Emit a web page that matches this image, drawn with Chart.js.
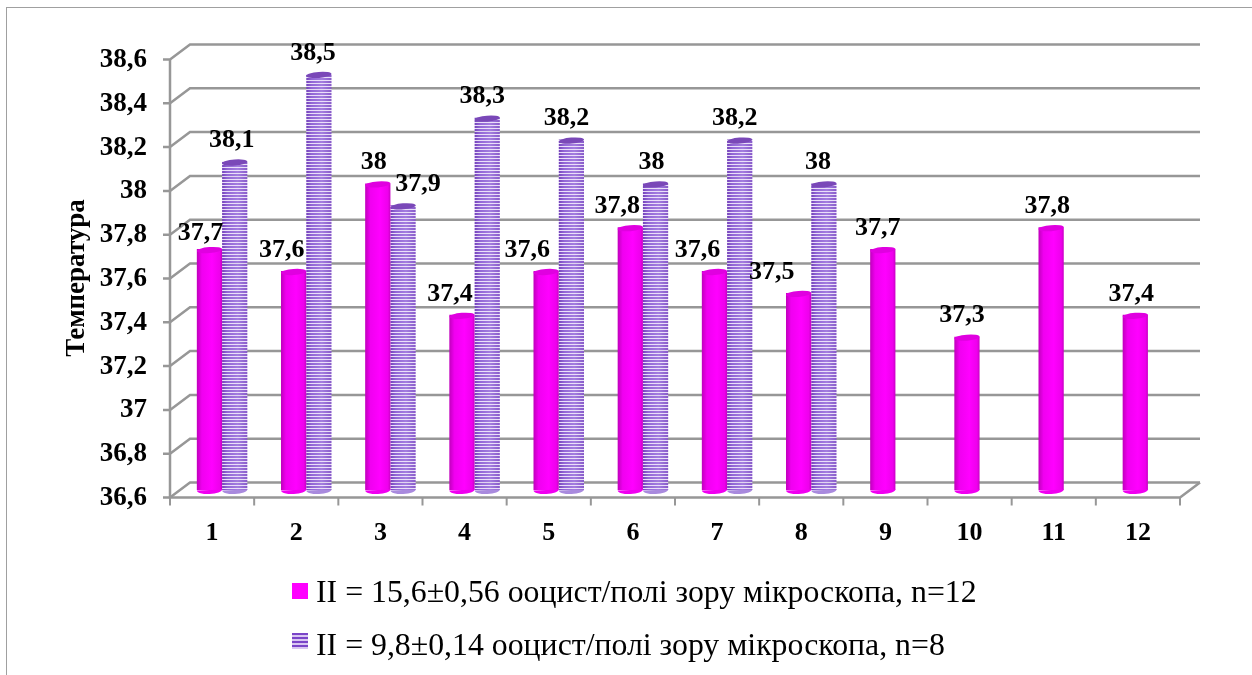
<!DOCTYPE html>
<html>
<head>
<meta charset="utf-8">
<script src="https://cdn.jsdelivr.net/npm/chart.js@4"></script>
<style>
  html, body { margin: 0; padding: 0; background: #fff; overflow: hidden; }
  #frame { position: absolute; left: 6px; top: 7px; width: 1246px; height: 668px; border-left: 1px solid #a0a0a0; border-top: 1px solid #a0a0a0; }
  #wrap { position: absolute; left: 0; top: 0; width: 1252px; height: 675px; }
  #legend { position: absolute; left: 292px; top: 572px; font: 31.8px "Liberation Serif", serif; color: #000; }
  #legend div { height: 53px; line-height: 40px; white-space: nowrap; display: flex; align-items: flex-start; }
  #legend i { display: inline-block; width: 16px; height: 16px; margin: 11px 8px 0 0; }
  #legend div + div i { margin-top: 8px; }
</style>
</head>
<body>
<div id="frame"></div>
<div id="wrap"><canvas id="tempChart" width="1252" height="675"></canvas></div>
<div id="legend"></div>
<script>
const categories = ['1', '2', '3', '4', '5', '6', '7', '8', '9', '10', '11', '12'];
const groupOne = [37.7, 37.6, 38, 37.4, 37.6, 37.8, 37.6, 37.5, 37.7, 37.3, 37.8, 37.4];
const groupTwo = [38.1, 38.5, 37.9, 38.3, 38.2, 38, 38.2, 38, null, null, null, null];
const seriesNames = ['II = 15,6±0,56 ооцист/полі зору мікроскопа, n=12', 'II = 9,8±0,14 ооцист/полі зору мікроскопа, n=8'];
const axisTitle = 'Температура';

// hand placed label nudges, the labels dodge each other in the narrow groups
const shiftOneX = [-9, -12, -4, -12, -19, -13, -17, -27, -5, -5, -4, -4];
const shiftOneY = [5, 0, 0, 0, 0, 0, 0, 0, 0, 0, 0, 0];
const shiftTwoX = [-3, -6, 15, -5, -5, -4, -5, -6];
const shiftTwoY = [0, 0, 0, 0, 0, 0, 0, 0];

const DEPTH_X = 20, DEPTH_Y = 15;
const GRID = '#979797';
const ctx = document.getElementById('tempChart').getContext('2d');

const decimalComma = v => String(v).replace('.', ',');

// magenta cylinder shading across the width of a bar
function magentaFill(c) {
    const el = c.element;
    if (!el || !el.width) return '#ff00ff';
    const left = el.x - el.width / 2;
    const g = ctx.createLinearGradient(left, 0, left + el.width, 0);
    g.addColorStop(0, '#c000bc');
    g.addColorStop(0.2, '#f000f0');
    g.addColorStop(0.6, '#ff00ff');
    g.addColorStop(0.9, '#ee00ec');
    g.addColorStop(1, '#c800c4');
    return g;
}

// purple rings: one tile per bar width, shaded left to right, lilac line every third pixel
const TILE_W = 26;
const stripeTile = document.createElement('canvas');
stripeTile.width = TILE_W;
stripeTile.height = 3;
const tileCtx = stripeTile.getContext('2d');
const shade = tileCtx.createLinearGradient(0, 0, TILE_W, 0);
shade.addColorStop(0, '#7442ba');
shade.addColorStop(0.2, '#9266d6');
shade.addColorStop(0.6, '#a47ee0');
shade.addColorStop(1, '#8658c8');
tileCtx.fillStyle = shade;
tileCtx.fillRect(0, 0, TILE_W, 2);
tileCtx.fillStyle = 'rgba(232, 220, 248, 0.9)';
tileCtx.fillRect(0, 2, TILE_W, 1);

function stripeFill(c) {
    const el = c.element;
    if (!el || !el.width) return '#9266d6';
    const p = ctx.createPattern(stripeTile, 'repeat');
    p.setTransform(new DOMMatrix().translate(el.x - el.width / 2, 0));
    return p;
}

const wallPlugin = {
    id: 'wall',
    beforeDatasetsDraw(chart) {
        const { ctx: c, scales: { y } } = chart;
        const area = chart.chartArea;
        const frontL = area.left - DEPTH_X / 2, frontR = area.right - DEPTH_X / 2;
        const backL = frontL + DEPTH_X, backR = frontR + DEPTH_X;
        const dy = DEPTH_Y / 2;
        c.save();
        c.strokeStyle = GRID;
        c.lineWidth = 2.5;
        y.ticks.forEach(t => {
            const py = y.getPixelForValue(t.value);
            c.beginPath();
            c.moveTo(frontL - 7, py + dy);
            c.lineTo(frontL, py + dy);
            c.lineTo(backL, py - dy);
            c.lineTo(backR, py - dy);
            c.stroke();
        });
        const bottom = y.getPixelForValue(y.min) + dy;
        const top = y.getPixelForValue(y.max) + dy;
        c.beginPath();
        c.moveTo(frontL, top);
        c.lineTo(frontL, bottom);
        c.lineTo(frontR, bottom);
        c.lineTo(backR, bottom - DEPTH_Y);
        c.stroke();
        c.lineWidth = 2;
        for (let i = 0; i <= categories.length; i++) {
            const px = frontL + i * (frontR - frontL) / categories.length;
            c.beginPath();
            c.moveTo(px, bottom);
            c.lineTo(px, bottom + 8);
            c.stroke();
        }
        c.restore();
    }
};

const capPlugin = {
    id: 'caps',
    afterDatasetsDraw(chart) {
        const c = chart.ctx;
        const floor = chart.scales.y.getPixelForValue(chart.scales.y.min);
        chart.data.datasets.forEach((ds, di) => {
            chart.getDatasetMeta(di).data.forEach((bar, i) => {
                if (ds.data[i] == null) return;
                const rx = bar.width / 2;
                c.save();
                // rounded foot of the cylinder
                c.beginPath();
                c.ellipse(bar.x, floor, rx, 4, -0.04, 0, Math.PI);
                c.fillStyle = di === 0 ? '#f000f0' : '#a98ade';
                c.fill();
                // lid, tilted a little
                c.beginPath();
                c.ellipse(bar.x, bar.y + 1, rx, 3, -0.08, 0, Math.PI * 2);
                c.fillStyle = di === 0 ? '#e000e0' : '#7a48b8';
                c.fill();
                c.restore();
            });
        });
    }
};

// value labels, drawn last so they sit over bars and grid
const valuePlugin = {
    id: 'values',
    afterDraw(chart) {
        const c = chart.ctx;
        c.save();
        c.font = 'bold 26px "Liberation Serif", serif';
        c.fillStyle = '#000';
        c.textAlign = 'center';
        c.textBaseline = 'middle';
        chart.data.datasets.forEach((ds, di) => {
            const sx = di === 0 ? shiftOneX : shiftTwoX;
            const sy = di === 0 ? shiftOneY : shiftTwoY;
            chart.getDatasetMeta(di).data.forEach((bar, i) => {
                if (ds.data[i] == null) return;
                c.fillText(decimalComma(ds.data[i]), bar.x + sx[i], bar.y - 21 + sy[i]);
            });
        });
        c.font = 'bold 27px "Liberation Serif", serif';
        c.translate(77, 278);
        c.rotate(-Math.PI / 2);
        c.fillText(axisTitle, 0, 0);
        c.restore();
    }
};

const chart = new Chart(ctx, {
    type: 'bar',
    data: {
        labels: categories,
        datasets: [
            { label: seriesNames[0], data: groupOne, backgroundColor: magentaFill, categoryPercentage: 0.6, barPercentage: 1 },
            { label: seriesNames[1], data: groupTwo, backgroundColor: stripeFill, categoryPercentage: 0.6, barPercentage: 1 }
        ]
    },
    options: {
        responsive: false,
        animation: false,
        layout: { padding: { top: 52, right: 62, bottom: 0, left: 0 } },
        plugins: { legend: { display: false }, tooltip: { enabled: false } },
        scales: {
            x: {
                grid: { display: false },
                border: { display: false },
                afterFit(s) { s.height = 185; },
                ticks: {
                    color: '#000',
                    padding: 20,
                    labelOffset: -10,
                    maxRotation: 0,
                    font: { family: '"Liberation Serif", serif', size: 26, weight: 'bold' }
                }
            },
            y: {
                min: 36.6,
                max: 38.6,
                grid: { display: false },
                border: { display: false },
                afterFit(s) { s.width = 180; },
                ticks: {
                    stepSize: 0.2,
                    color: '#000',
                    padding: 25,
                    labelOffset: 8,
                    callback: v => decimalComma(Math.round(v * 10) / 10),
                    font: { family: '"Liberation Serif", serif', size: 27, weight: 'bold' }
                }
            }
        }
    },
    plugins: [wallPlugin, capPlugin, valuePlugin]
});
// second pass so the fills can read each bar's position
chart.update();

// legend rows come from the dataset labels
const legendBox = document.getElementById('legend');
chart.data.datasets.forEach((ds, di) => {
    const row = document.createElement('div');
    const key = document.createElement('i');
    key.style.background = di === 0 ? '#ff00ff' : 'repeating-linear-gradient(#7a45c8 0 2px, #d9c6f2 2px 4px)';
    row.appendChild(key);
    row.appendChild(document.createTextNode(ds.label));
    legendBox.appendChild(row);
});
</script>
</body>
</html>
